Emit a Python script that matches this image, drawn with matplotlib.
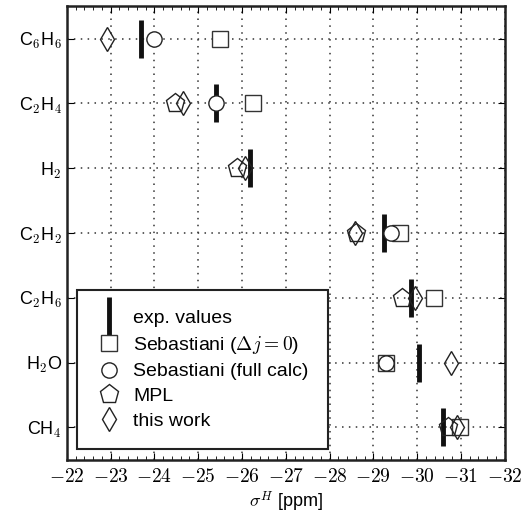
import numpy as np
import matplotlib.pyplot as plt
from matplotlib.ticker import MultipleLocator

plt.rcParams['font.family'] = ['Liberation Sans', 'DejaVu Sans']
plt.rcParams['mathtext.fontset'] = 'cm'

molecules = [r'C$_\mathsf{6}$H$_\mathsf{6}$', r'C$_\mathsf{2}$H$_\mathsf{4}$', r'H$_\mathsf{2}$',
             r'C$_\mathsf{2}$H$_\mathsf{2}$', r'C$_\mathsf{2}$H$_\mathsf{6}$', r'H$_\mathsf{2}$O',
             r'CH$_\mathsf{4}$']

# shielding constants in ppm, NaN where no value is available
exp_vals = [-23.69, -25.41, -26.19, -29.24, -29.85, -30.04, -30.59]
seb_dj0 = [-25.49, -26.24, np.nan, -29.60, -30.39, -29.28, -30.97]
seb_full = [-23.99, -25.40, np.nan, -29.41, np.nan, -29.28, np.nan]
mpl_vals = [np.nan, -24.48, -25.88, -28.60, -29.66, np.nan, -30.70]
this_work = [-22.91, -24.66, -26.06, -28.58, -29.95, -30.78, -30.91]

ypos = np.arange(1, len(molecules) + 1)

fig, ax = plt.subplots(figsize=(5.22, 5.22), dpi=100)
fig.subplots_adjust(left=0.128, right=0.967, top=0.988, bottom=0.119)

ax.plot(seb_dj0, ypos, ls='none', marker='s', ms=11, mfc='white', mec='#333333',
        mew=1.0, zorder=3, label=r'Sebastiani ($\Delta j = 0$)')
ax.plot(exp_vals, ypos, ls='none', marker='|', ms=27, mec='#111111', mew=3.5,
        zorder=4, label='exp. values')
ax.plot(seb_full, ypos, ls='none', marker='o', ms=11, mfc='white', mec='#222222',
        mew=1.0, zorder=5, label='Sebastiani (full calc)')
ax.plot(mpl_vals, ypos, ls='none', marker='p', ms=14, mfc='none', mec='#222222',
        mew=1.0, zorder=6, label='MPL')
ax.plot(this_work, ypos, ls='none', marker='d', ms=12.5, mfc='none', mec='#222222',
        mew=1.0, zorder=6, label='this work')

ax.set_xlim(-22, -32)
ax.set_ylim(7.5, 0.5)
ax.set_yticks(ypos)
ax.set_yticklabels(molecules, fontsize=13)
ax.set_xticks(np.arange(-22, -33, -1))
ax.set_xticklabels([r'$%d$' % v for v in range(-22, -33, -1)], fontsize=14)
ax.xaxis.set_minor_locator(MultipleLocator(0.2))
ax.tick_params(axis='x', which='major', direction='in', top=True, length=5, pad=6)
ax.tick_params(axis='x', which='minor', direction='in', top=True, length=3)
ax.tick_params(axis='y', which='major', direction='in', right=True, length=5)
ax.grid(True, which='major', ls=(0, (1, 3.5)), color='#333333', lw=1.1)
for s in ax.spines.values():
    s.set_linewidth(1.8)
    s.set_color('#222222')

ax.set_xlabel(r'$\sigma^H$ [ppm]', fontsize=13, labelpad=2)

handles, labels = ax.get_legend_handles_labels()
order = [1, 0, 2, 3, 4]
leg = ax.legend([handles[i] for i in order], [labels[i] for i in order],
                loc='lower left', fontsize=14, fancybox=False, framealpha=1,
                edgecolor='#222222', borderpad=1.0, handletextpad=0.6,
                handlelength=1.3, labelspacing=0.36, borderaxespad=0,
                bbox_to_anchor=(0.023, 0.024))
leg.get_frame().set_linewidth(1.5)

fig.savefig('out.png', dpi=100)
